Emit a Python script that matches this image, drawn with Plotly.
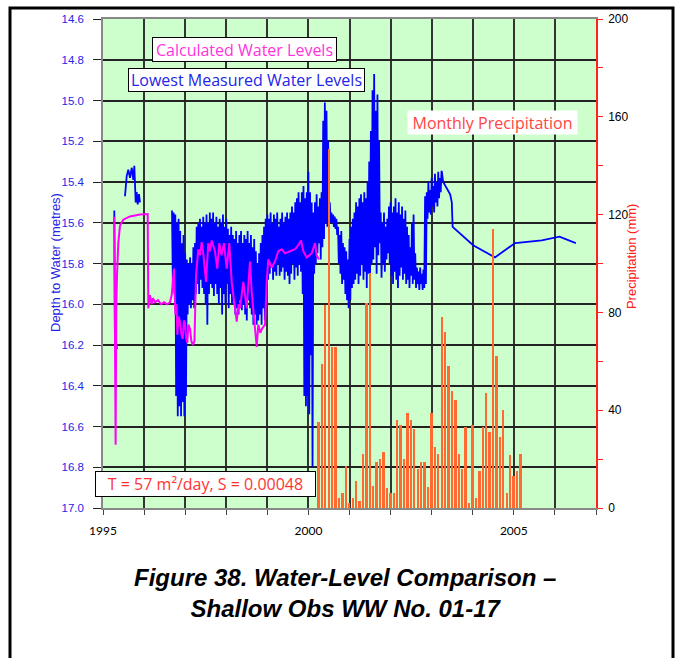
import plotly.graph_objects as go

# ---------------- DATA ----------------
# Monthly precipitation (mm), first month April 2000
precip_start = 2000.25
precip_mm = [35, 59, 83, 147, 66, 66, 4, 6, 17, 2, 4, 11, 3, 22, 84, 96, 9, 19, 20, 23,
             8, 6, 6, 36, 34, 20, 39, 36, 32.5, 16, 19, 19, 8.5, 39, 25, 22, 78, 72, 58, 48,
             44, 22, 16, 33, 2, 34, 4, 15, 33, 47, 31, 114, 62, 29, 40, 6, 21.5, 13, 15, 22]

# Calculated water levels (magenta)
calc_t = [1995.275, 1995.292, 1995.307, 1995.324, 1995.341, 1995.372, 1995.414, 1995.494, 1995.657, 1995.90,
          1996.088, 1996.103, 1996.144, 1996.186, 1996.217, 1996.266, 1996.339, 1996.412, 1996.485, 1996.558,
          1996.631, 1996.672, 1996.728, 1996.76, 1996.79, 1996.81, 1996.84, 1996.874, 1996.91, 1996.94,
          1996.97, 1996.996, 1997.02, 1997.052, 1997.08, 1997.118, 1997.15, 1997.184, 1997.227, 1997.264,
          1997.32, 1997.36, 1997.403, 1997.446, 1997.507, 1997.563, 1997.60, 1997.646, 1997.726, 1997.782,
          1997.831, 1997.885, 1997.945, 1998.011, 1998.074, 1998.133, 1998.213, 1998.255, 1998.30, 1998.335,
          1998.415, 1998.498, 1998.578, 1998.62, 1998.70, 1998.742, 1998.78, 1998.83, 1998.87, 1998.944,
          1998.985, 1999.024, 1999.107, 1999.187, 1999.267, 1999.35, 1999.43, 1999.552, 1999.674, 1999.754,
          1999.82, 1999.876, 1999.959, 2000.02, 2000.08, 2000.161, 2000.202, 2000.258]
calc_d = [15.57, 16.20, 16.69, 16.00, 15.86, 15.70, 15.614, 15.585, 15.569, 15.56,
          15.557, 16.02, 15.955, 16.00, 15.97, 15.99, 15.98, 16.00, 15.99, 16.00,
          15.99, 15.955, 15.825, 16.05, 16.00, 16.15, 16.06, 16.085, 16.15, 16.17,
          16.08, 16.09, 16.16, 16.19, 16.10, 16.12, 16.18, 16.20, 16.18, 15.86,
          15.73, 15.76, 15.695, 15.76, 15.89, 15.70, 15.74, 15.687, 15.74, 15.825,
          15.70, 15.76, 15.70, 15.825, 15.70, 15.89, 16.02, 16.085, 16.00, 16.02,
          15.89, 16.02, 15.79, 15.94, 16.12, 16.21, 16.10, 16.14, 16.12, 16.10,
          15.89, 15.78, 15.82, 15.79, 15.74, 15.73, 15.75, 15.74, 15.73, 15.71,
          15.687, 15.74, 15.77, 15.76, 15.75, 15.70, 15.76, 15.78]

# Lowest measured water levels (blue) - early short records
meas_early_t = [1995.275, 1995.29, 1995.34]
meas_early_d = [15.54, 16.15, 16.22]
meas_a_t = [1995.535, 1995.577, 1995.616, 1995.657, 1995.70, 1995.737, 1995.762, 1995.796, 1995.82,
            1995.845, 1995.876, 1995.90]
meas_a_d = [15.47, 15.37, 15.34, 15.38, 15.33, 15.39, 15.32, 15.50, 15.45, 15.51, 15.46, 15.50]

# Dense logger record: upper / lower envelope every 0.04 yr from 1996.68
meas_dense_start = 1996.68
meas_dense_step = 0.04
meas_hi = [15.54, 15.55, 15.56, 15.60, 15.58, 15.64, 15.70, 15.66, 15.75, 15.78,
           15.80, 15.77, 15.80, 15.72, 15.70, 15.62, 15.60, 15.58, 15.62, 15.57,
           15.60, 15.56, 15.60, 15.55, 15.58, 15.55, 15.60, 15.57, 15.62, 15.58,
           15.60, 15.56, 15.62, 15.58, 15.63, 15.66, 15.62, 15.66, 15.68, 15.64,
           15.70, 15.66, 15.64, 15.70, 15.66, 15.68, 15.64, 15.70, 15.66, 15.72,
           15.68, 15.74, 15.80, 15.75, 15.70, 15.66, 15.62, 15.58, 15.56, 15.58,
           15.55, 15.60, 15.56, 15.58, 15.55, 15.62, 15.58, 15.55, 15.60, 15.57,
           15.55, 15.58, 15.55, 15.52, 15.55, 15.50, 15.48, 15.45, 15.50, 15.45,
           15.42, 15.48, 15.45, 15.35, 15.45, 15.50, 15.55, 15.50, 15.46, 15.52,
           15.48, 15.45, 15.10, 15.01, 15.05, 15.20, 15.50, 15.55, 15.56, 15.57,
           15.58, 15.62, 15.66, 15.64, 15.70, 15.72, 15.74, 15.78, 15.68, 15.62,
           15.58, 15.55, 15.50, 15.52, 15.48, 15.46, 15.50, 15.45, 15.48, 15.40,
           15.30, 15.15, 14.95, 14.87, 15.05, 14.97, 15.20, 15.55, 15.60, 15.55,
           15.62, 15.58, 15.52, 15.50, 15.55, 15.52, 15.48, 15.55, 15.50, 15.56,
           15.52, 15.58, 15.54, 15.62, 15.66, 15.72, 15.60, 15.56, 15.75, 15.82,
           15.84, 15.82, 15.85, 15.83, 15.47, 15.45, 15.40, 15.44, 15.38, 15.42,
           15.36, 15.40, 15.35, 15.38, 15.345]
meas_lo = [15.90, 15.95, 16.45, 16.55, 16.50, 16.55, 16.48, 16.55, 16.45, 16.05,
           16.00, 16.02, 15.98, 16.02, 15.95, 15.90, 15.95, 15.88, 15.92, 15.95,
           16.00, 16.10, 15.95, 15.90, 15.92, 15.96, 15.90, 15.95, 16.00, 15.92,
           16.05, 15.95, 16.00, 15.90, 16.02, 15.95, 16.00, 15.98, 16.05, 16.02,
           16.05, 15.98, 16.03, 16.00, 16.05, 16.08, 15.98, 16.02, 16.05, 16.10,
           16.05, 16.10, 16.08, 16.05, 16.10, 16.02, 16.08, 15.95, 15.88, 15.85,
           15.82, 15.88, 15.84, 15.86, 15.80, 15.86, 15.84, 15.82, 15.88, 15.84,
           15.86, 15.90, 15.85, 15.80, 15.88, 15.82, 15.86, 15.80, 15.84, 15.95,
           16.45, 16.50, 16.45, 16.54, 16.25, 16.80, 15.85, 15.80, 15.75, 15.70,
           15.78, 15.72, 15.68, 15.60, 15.62, 15.60, 15.60, 15.60, 15.62, 15.63,
           15.66, 15.80, 15.85, 15.90, 15.88, 15.95, 15.98, 16.02, 15.98, 15.92,
           15.90, 15.88, 15.85, 15.90, 15.86, 15.80, 15.88, 15.84, 15.92, 15.85,
           15.86, 15.80, 15.78, 15.72, 15.85, 15.76, 15.70, 15.87, 15.80, 15.84,
           15.78, 15.75, 15.80, 15.86, 15.90, 15.84, 15.88, 15.92, 15.86, 15.82,
           15.88, 15.85, 15.90, 15.88, 15.92, 15.86, 15.90, 15.88, 15.92, 15.90,
           15.93, 15.90, 15.93, 15.92, 15.90, 15.58, 15.55, 15.56, 15.52, 15.55,
           15.50, 15.52, 15.48, 15.45, 15.40]

# Sparse manual measurements after 2003
meas_tail_t = [2003.245, 2003.28, 2003.45, 2003.49, 2003.51, 2004.01, 2004.54, 2005.03, 2005.68, 2006.11, 2006.51]
meas_tail_d = [15.345, 15.40, 15.46, 15.50, 15.62, 15.71, 15.77, 15.70, 15.687, 15.668, 15.70]

# Axis ticks
year_ticks = list(range(1995, 2008))
year_labels = ["1995", "", "", "", "", "2000", "", "", "", "", "2005", "", ""]
depth_ticks = [14.6, 14.8, 15.0, 15.2, 15.4, 15.6, 15.8, 16.0, 16.2, 16.4, 16.6, 16.8, 17.0]
precip_ticks = [0, 20, 40, 60, 80, 100, 120, 140, 160, 180, 200]
precip_labels = ["0", "", "40", "", "80", "", "120", "", "160", "", "200"]

# ---------------- BUILD ----------------
precip_t = [precip_start + i / 12 for i in range(len(precip_mm))]

bx, by = [], []
bx += meas_early_t; by += meas_early_d
bx.append(None); by.append(None)
bx += meas_a_t; by += meas_a_d
bx.append(None); by.append(None)
for i, (h, l) in enumerate(zip(meas_hi, meas_lo)):
    t = meas_dense_start + i * meas_dense_step
    bx += [t, t + meas_dense_step / 2]
    by += [h, l]
bx += meas_tail_t; by += meas_tail_d

fig = go.Figure()
fig.add_trace(go.Scatter(x=bx, y=by, mode="lines",
                         line=dict(color="#0000FF", width=1.8, simplify=False),
                         showlegend=False, hoverinfo="skip"))
fig.add_trace(go.Scatter(x=calc_t, y=calc_d, mode="lines",
                         line=dict(color="#FF00FF", width=2, simplify=False),
                         showlegend=False, hoverinfo="skip"))
fig.add_trace(go.Bar(x=precip_t, y=precip_mm, yaxis="y2", width=0.045,
                     marker=dict(color="#FF6A33", line=dict(width=0)), showlegend=False,
                     hoverinfo="skip"))

L, R, T, B = 103, 596, 15, 508
W, H = R - L, B - T


def xp(px):
    return (px - L) / W


def yp(py):
    return (B - py) / H


fig.update_layout(
    width=678, height=658,
    margin=dict(l=L, r=678 - R, t=T, b=658 - B),
    paper_bgcolor="white", plot_bgcolor="#CCFFCC",
    bargap=0,
    xaxis=dict(range=[1995, 2007], tickmode="array", tickvals=year_ticks, ticktext=year_labels,
               showgrid=True, gridcolor="#333333", gridwidth=1.5, zeroline=False,
               showline=True, linecolor="#888888", linewidth=1.5, mirror=True,
               ticks="outside", ticklen=5, tickcolor="#444444", tickwidth=1,
               tickfont=dict(family="Lato, Carlito, sans-serif", size=12, color="black"),
               ticklabelstandoff=6),
    yaxis=dict(range=[17.0, 14.6], tickmode="array", tickvals=depth_ticks,
               ticktext=["%.1f" % v for v in depth_ticks],
               showgrid=True, gridcolor="#222222", gridwidth=1.5, zeroline=False,
               showline=True, linecolor="#888888", linewidth=1.5,
               ticks="outside", ticklen=8, tickcolor="#222222", tickwidth=1.2,
               tickfont=dict(family="Liberation Sans, Arial, sans-serif", size=11.5, color="#2525E8"),
               ticklabelstandoff=7),
    yaxis2=dict(range=[0, 200], overlaying="y", side="right", tickmode="array",
                tickvals=precip_ticks, ticktext=precip_labels, showgrid=False, zeroline=False,
                showline=True, linecolor="#FF2020", linewidth=1.5,
                ticks="outside", ticklen=5, tickcolor="#FF2020", tickwidth=1.2,
                tickfont=dict(family="Liberation Sans, Arial, sans-serif", size=12, color="black"),
                ticklabelstandoff=3),
)

hand = "Open Sans, Lato, sans-serif"
annots = [
    dict(x=xp(55), y=yp(261), text="Depth to Water (metres)", textangle=-90, showarrow=False,
         font=dict(family="Liberation Sans, Arial", size=13, color="#2525E8")),
    dict(x=xp(631), y=yp(255), text="Precipitation (mm)", textangle=-90, showarrow=False,
         font=dict(family="Liberation Sans, Arial", size=13, color="#FF2020")),
    dict(x=xp(244.5), y=yp(45.5), text="Calculated Water Levels", showarrow=False,
         font=dict(family=hand, size=16, color="#FF33DD"), bgcolor="white",
         bordercolor="black", borderwidth=1, borderpad=1, width=181, height=21),
    dict(x=xp(246.5), y=yp(77), text="Lowest Measured Water Levels", showarrow=False,
         font=dict(family=hand, size=16, color="#2525E8"), bgcolor="white",
         bordercolor="black", borderwidth=1, borderpad=1, width=233, height=20),
    dict(x=xp(492.5), y=yp(119.5), text="Monthly Precipitation", showarrow=False,
         font=dict(family=hand, size=16, color="#FF4444"), bgcolor="white",
         borderpad=1, width=167, height=21),
    dict(x=xp(205.5), y=yp(484), text="T = 57 m²/day, S = 0.00048", showarrow=False,
         font=dict(family=hand, size=16, color="#FF3333"), bgcolor="white",
         bordercolor="black", borderwidth=1, borderpad=1, width=217, height=22),
    dict(x=xp(345), y=yp(594), text="<b><i>Figure 38. Water-Level Comparison –<br>Shallow Obs WW No. 01-17</i></b>",
         showarrow=False, font=dict(family="Liberation Sans, Arial", size=24, color="black")),
]
for a in annots:
    a.update(xref="paper", yref="paper", xanchor="center", yanchor="middle")
fig.update_layout(annotations=annots)

fig.add_shape(type="rect", xref="paper", yref="paper", x0=xp(10), x1=xp(673), y0=yp(675), y1=yp(4),
              line=dict(color="black", width=3), fillcolor="rgba(0,0,0,0)", layer="above")

fig.write_html("out.html", config={"displayModeBar": False},
               post_script="document.body.style.margin='0';document.body.style.overflow='hidden';")
